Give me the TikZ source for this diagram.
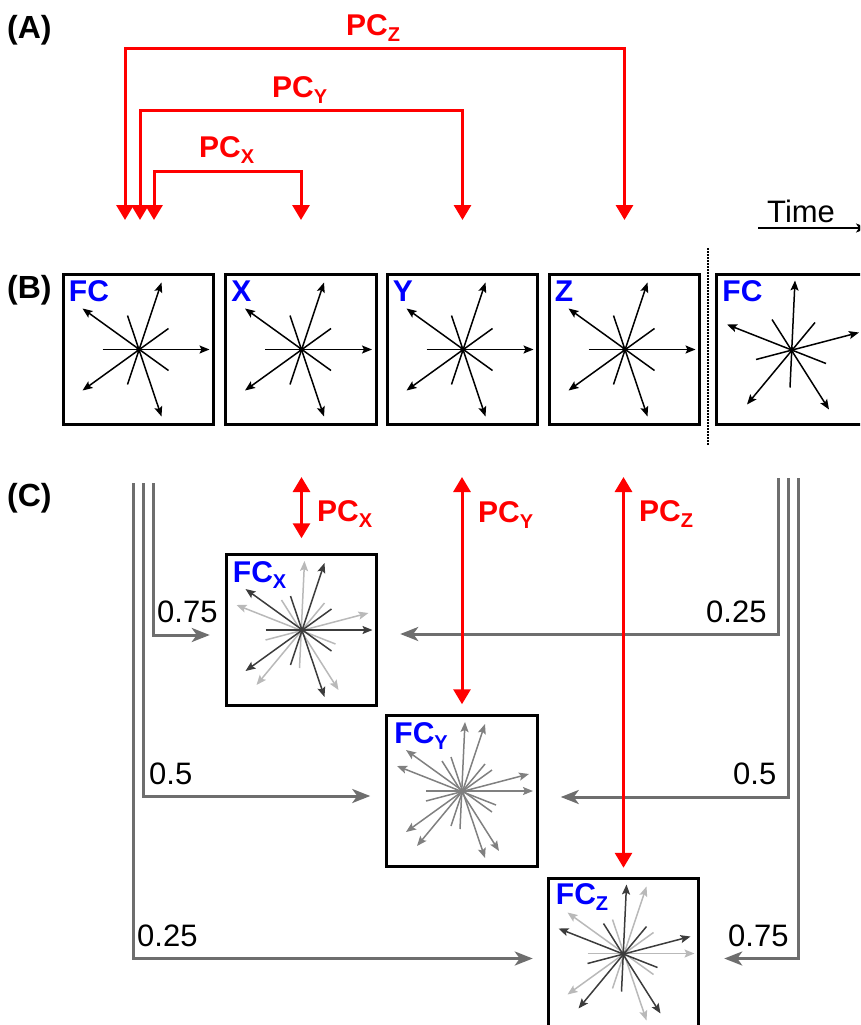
\documentclass[tikz,border=0pt]{standalone}
\usepackage{fontspec}
\setmainfont{Liberation Sans}
\usetikzlibrary{arrows.meta}
\definecolor{pcred}{RGB}{255,0,0}
\definecolor{fcblue}{RGB}{0,0,255}
\definecolor{linegray}{RGB}{110,110,110}
\definecolor{darkstar}{RGB}{60,60,60}
\definecolor{midstar}{RGB}{128,128,128}
\definecolor{lightstar}{RGB}{185,185,185}
\newcommand\mysub[1]{\raisebox{-6pt}{\fontsize{20}{20}\selectfont #1}}
\newcommand\starA[2]{%
\begin{scope}[shift={(#1.center)}]
\foreach \ax/\ay/\bx/\by in {-36/0/71/0, -11/35/23/-67, 30/21/-56/-41, 30/-21/-56/41, -11/-34/23/67}
  {\draw[starray, draw=#2] (\ax,\ay) -- (\bx,\by);}
\fill[#2] (0,0) circle (2.4pt);
\end{scope}}
\newcommand\starB[2]{%
\begin{scope}[shift={(#1.center)}]
\foreach \ax/\ay/\bx/\by in {-2/38/3/-69, 34/14/-65/-25, -36/10/67/-17, 23/-27/-45/55, -20/-30/37/60}
  {\draw[starray, draw=#2] (\ax,\ay) -- (\bx,\by);}
\fill[#2] (0,0) circle (2.4pt);
\end{scope}}
\begin{document}
\begin{tikzpicture}[x=1pt,y=-1pt,
  panel/.style={font=\fontsize{32}{32}\selectfont\bfseries, inner sep=0pt, anchor=base west},
  pclbl/.style={font=\fontsize{30}{30}\selectfont\bfseries, text=pcred, inner sep=0pt, anchor=base west},
  boxlbl/.style={font=\fontsize{30}{30}\selectfont\bfseries, text=fcblue, inner sep=0pt, anchor=base west},
  numlbl/.style={font=\fontsize{31}{31}\selectfont, inner sep=0pt, anchor=base west},
  fcbox/.style={draw, line width=3pt, minimum width=150.5pt, minimum height=150.5pt, inner sep=0pt},
  redline/.style={draw=pcred, line width=3pt},
  redarrows/.style={arrows={Triangle[width=17pt,length=15pt]-Triangle[width=17pt,length=15pt]}},
  grayline/.style={draw=linegray, line width=3pt, -{Stealth[length=18pt,width=14pt,inset=5pt]}},
  starray/.style={line width=1.5pt, -{Stealth[length=10pt,width=8pt,inset=2pt]}},
  timeline/.style={line width=1.6pt, -{Stealth[length=12pt,width=9pt,inset=3pt]}}]
\useasboundingbox (0,0) rectangle (860,1025);
\clip (0,0) rectangle (860,1025);

% panel labels
\node[panel] (lA) at (7,39) {(A)};
\node[panel] (lB) at (7,298) {(B)};
\node[panel] (lC) at (7,506) {(C)};

% (A) red connectors
\coordinate (zl) at (125,220); \coordinate (zr) at (624.5,220);
\coordinate (yl) at (140,220); \coordinate (yr) at (462.5,220);
\coordinate (xl) at (154,220); \coordinate (xr) at (301,220);
\draw[redline, redarrows] (zl) -- ([yshift=171pt]zl) -| (zr);
\draw[redline, redarrows] (yl) -- ([yshift=110pt]yl) -| (yr);
\draw[redline, redarrows] (xl) -- ([yshift=49pt]xl) -| (xr);
\node[pclbl] (lpcz) at (346,36) {PC\mysub{Z}};
\node[pclbl] (lpcy) at (272,97) {PC\mysub{Y}};
\node[pclbl] (lpcx) at (199,157) {PC\mysub{X}};

% time arrow
\node[numlbl] (time) at (767,222) {Time};
\coordinate (t1) at (758,228); \coordinate (t2) at (868,228);
\draw[timeline] (t1) -- (t2);

% (B) boxes
\node[fcbox] (b1) at (138.5,349.5) {};
\node[fcbox] (b2) at (301,349.5) {};
\node[fcbox] (b3) at (462.5,349.5) {};
\node[fcbox] (b4) at (624.5,349.5) {};
\node[fcbox] (b5) at (792,349.5) {};
\node[boxlbl] (lb1) at ([xshift=7pt,yshift=-29pt]b1.north west) {FC};
\node[boxlbl] (lb2) at ([xshift=7pt,yshift=-29pt]b2.north west) {X};
\node[boxlbl] (lb3) at ([xshift=7pt,yshift=-29pt]b3.north west) {Y};
\node[boxlbl] (lb4) at ([xshift=7pt,yshift=-29pt]b4.north west) {Z};
\node[boxlbl] (lb5) at ([xshift=7pt,yshift=-29pt]b5.north west) {FC};
\starA{b1}{black}
\starA{b2}{black}
\starA{b3}{black}
\starA{b4}{black}
\starB{b5}{black}

% dotted separator
\coordinate (d1) at (708,248); \coordinate (d2) at (708,445);
\draw[line width=1.5pt, dash pattern=on 1.5pt off 1.5pt] (d1) -- (d2);

% (C) boxes
\node[fcbox] (fcx) at (301.5,630) {};
\node[fcbox] (fcy) at (462,791) {};
\node[fcbox] (fcz) at (623.5,953.5) {};
\node[boxlbl] (lfcx) at ([xshift=8pt,yshift=-29pt]fcx.north west) {FC\mysub{X}};
\node[boxlbl] (lfcy) at ([xshift=9pt,yshift=-29pt]fcy.north west) {FC\mysub{Y}};
\node[boxlbl] (lfcz) at ([xshift=9pt,yshift=-28pt]fcz.north west) {FC\mysub{Z}};
\starB{fcx}{lightstar}
\starA{fcx}{darkstar}
\starB{fcy}{midstar}
\starA{fcy}{midstar}
\starA{fcz}{lightstar}
\starB{fcz}{darkstar}

% gray weighted connectors
\coordinate (gl1) at (153,483); \coordinate (gl2) at (143,483); \coordinate (gl3) at (133,483);
\coordinate (gr1) at (778,478); \coordinate (gr2) at (788,478); \coordinate (gr3) at (798,478);
\draw[grayline] (gl1) |- ([xshift=-15pt,yshift=-5pt]fcx.west);
\draw[grayline] (gl2) |- ([xshift=-15pt,yshift=-5pt]fcy.west);
\draw[grayline] (gl3) |- ([xshift=-14pt,yshift=-5pt]fcz.west);
\draw[grayline] (gr1) |- ([xshift=22pt,yshift=-4pt]fcx.east);
\draw[grayline] (gr2) |- ([xshift=22pt,yshift=-6pt]fcy.east);
\draw[grayline] (gr3) |- ([xshift=24pt,yshift=-5pt]fcz.east);
\node[numlbl] (n1) at (157,622) {0.75};
\node[numlbl] (n2) at (149,784) {0.5};
\node[numlbl] (n3) at (137,946) {0.25};
\node[numlbl] (n4) at (706,622) {0.25};
\node[numlbl] (n5) at (733,784) {0.5};
\node[numlbl] (n6) at (728,946) {0.75};

% red double arrows in (C)
\coordinate (rx) at (301.5,477); \coordinate (ry) at (462,477); \coordinate (rz) at (623.5,477);
\draw[redline, redarrows] (rx) -- ([yshift=15pt]fcx.north);
\draw[redline, redarrows] (ry) -- ([yshift=10pt]fcy.north);
\draw[redline, redarrows] (rz) -- ([yshift=9pt]fcz.north);
\node[pclbl] (lcx) at (317,521) {PC\mysub{X}};
\node[pclbl] (lcy) at (478,522) {PC\mysub{Y}};
\node[pclbl] (lcz) at (639,521) {PC\mysub{Z}};
\end{tikzpicture}
\end{document}
